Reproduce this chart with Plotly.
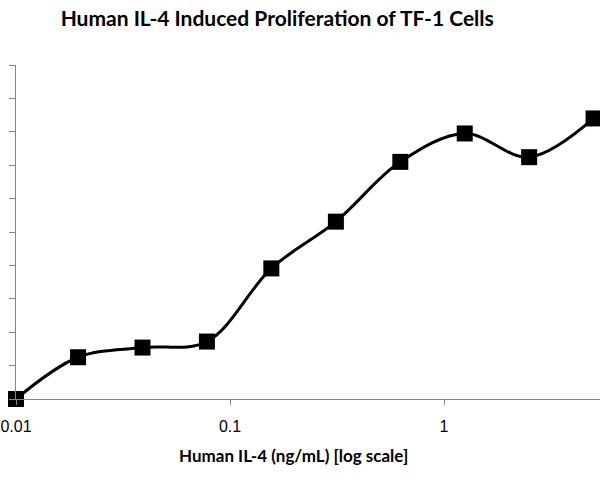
import plotly.graph_objects as go

# IL-4 concentration (ng/mL) and response (arbitrary units, axis unlabelled)
conc = [0.01, 0.0195, 0.039, 0.078, 0.156, 0.3125, 0.625, 1.25, 2.5, 5.0]
response = [0.0, 1.25, 1.54, 1.72, 3.91, 5.31, 7.10, 7.95, 7.24, 8.40]
x_ticks = [0.01, 0.1, 1]
x_tick_text = ["0.01", "0.1", "1"]

axis_gray = "#868686"

fig = go.Figure()

fig.add_trace(
    go.Scatter(
        x=conc,
        y=response,
        mode="lines+markers",
        line=dict(color="black", width=3, shape="spline", smoothing=1),
        marker=dict(symbol="square", size=16, color="black"),
        cliponaxis=False,
        showlegend=False,
    )
)

# x axis title is placed by hand: in the original it sits left of the plot centre
fig.add_annotation(
    text="<b>Human IL-4 (ng/mL) [log scale]</b>",
    xref="paper",
    yref="paper",
    x=0.476,
    y=-0.168,
    xanchor="center",
    yanchor="middle",
    showarrow=False,
    font=dict(family="Lato", size=17, color="black"),
)

fig.update_layout(
    width=600,
    height=480,
    margin=dict(l=16, r=0, t=65, b=81, autoexpand=False),
    paper_bgcolor="white",
    plot_bgcolor="white",
    title=dict(
        text="<b>Human IL-4 Induced Proliferation of TF-1 Cells</b>",
        x=0.462,
        xanchor="center",
        y=0.962,
        yanchor="middle",
        font=dict(family="Lato", size=21, color="black"),
    ),
    xaxis=dict(
        type="log",
        range=[-2, 0.729],
        tickvals=x_ticks,
        ticktext=x_tick_text,
        ticks="outside",
        ticklen=5,
        tickcolor=axis_gray,
        tickwidth=1,
        ticklabelstandoff=8,
        showline=True,
        linecolor=axis_gray,
        linewidth=1,
        showgrid=False,
        zeroline=False,
        automargin=False,
        tickfont=dict(family="Liberation Sans", size=16, color="black"),
    ),
    yaxis=dict(
        range=[0, 10],
        dtick=1,
        showticklabels=False,
        ticks="outside",
        ticklen=6,
        tickcolor=axis_gray,
        tickwidth=1,
        showline=True,
        linecolor=axis_gray,
        linewidth=1,
        showgrid=False,
        zeroline=False,
        automargin=False,
    ),
)

fig.write_html(
    "out.html",
    config={"displayModeBar": False},
    post_script="document.body.style.margin='0';",
)
